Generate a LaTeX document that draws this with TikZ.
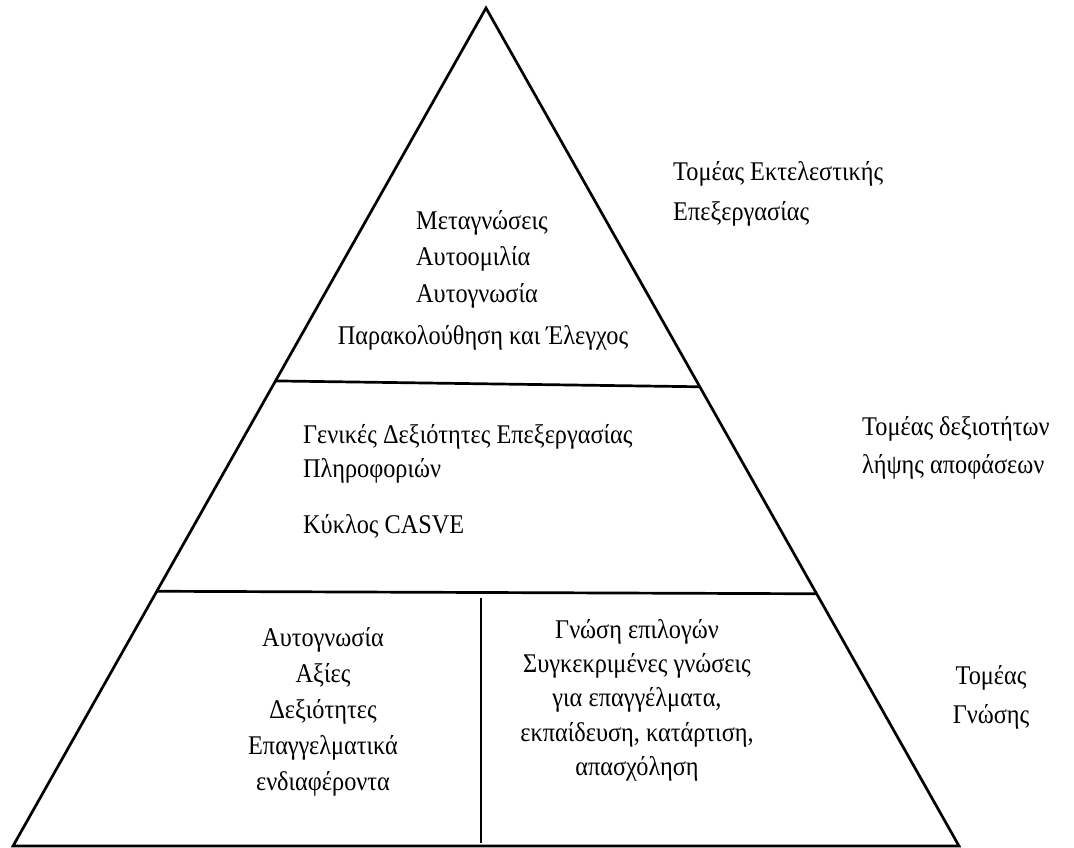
\documentclass[tikz,border=0pt]{standalone}
\usepackage{fontspec}
\setmainfont{Liberation Serif}[FakeStretch=0.9]
\usetikzlibrary{calc}

\begin{document}
\begin{tikzpicture}[x=1pt, y=-1pt,
        txt/.style = {inner sep=0pt, font=\fontsize{27}{36.5}\selectfont},
        edge/.style = {line width=2.7pt}]
                \useasboundingbox (0,0) rectangle (1074,847);

                % corners of the pyramid
                \coordinate (T) at (486,8);
                \coordinate (L) at (13,846);
                \coordinate (R) at (959,846);
                \coordinate (A1) at ($(T)!0.445!(L)$);
                \coordinate (A2) at ($(T)!0.452!(R)$);
                \coordinate (B1) at ($(T)!0.696!(L)$);
                \coordinate (B2) at ($(T)!0.699!(R)$);
                \coordinate (C1) at (481,598);
                \coordinate (C2) at (481,843);

                \draw [edge, line join=miter] (L) -- (T) -- (R) -- cycle;
                \draw [edge] (A1) -- (A2);
                \draw [edge] (B1) -- (B2);
                \draw [edge] (C1) -- (C2);

                % top level
                \node[txt, anchor=north west, align=left] at (416,210) (meta)
                        {Μεταγνώσεις\\Αυτοομιλία\\Αυτογνωσία};
                \node[txt, anchor=base] at (483,344) (monitor)
                        {Παρακολούθηση και Έλεγχος};
                \node[txt, anchor=north west, align=left, font=\fontsize{27}{40}\selectfont] at (673,161) (exec)
                        {Τομέας Εκτελεστικής\\Επεξεργασίας};

                % middle level
                \node[txt, anchor=north west, align=left, font=\fontsize{27}{34}\selectfont] at (303,424) (skills)
                        {Γενικές Δεξιότητες Επεξεργασίας\\Πληροφοριών\\[22pt]Κύκλος CASVE};
                \node[txt, anchor=north west, align=left, font=\fontsize{27}{38}\selectfont] at (862,416) (decide)
                        {Τομέας δεξιοτήτων\\λήψης αποφάσεων};

                % bottom level
                \node[txt, anchor=north, align=center, font=\fontsize{27}{36}\selectfont] at (323,627) (self)
                        {Αυτογνωσία\\Αξίες\\Δεξιότητες\\Επαγγελματικά\\ενδιαφέροντα};
                \node[txt, anchor=north, align=center, font=\fontsize{27}{34.3}\selectfont] at (637,619) (options)
                        {Γνώση επιλογών\\Συγκεκριμένες γνώσεις\\για επαγγέλματα,\\εκπαίδευση, κατάρτιση,\\απασχόληση};
                \node[txt, anchor=north, align=center, font=\fontsize{27}{39}\selectfont] at (991,665) (know)
                        {Τομέας\\Γνώσης};
\end{tikzpicture}
\end{document}
